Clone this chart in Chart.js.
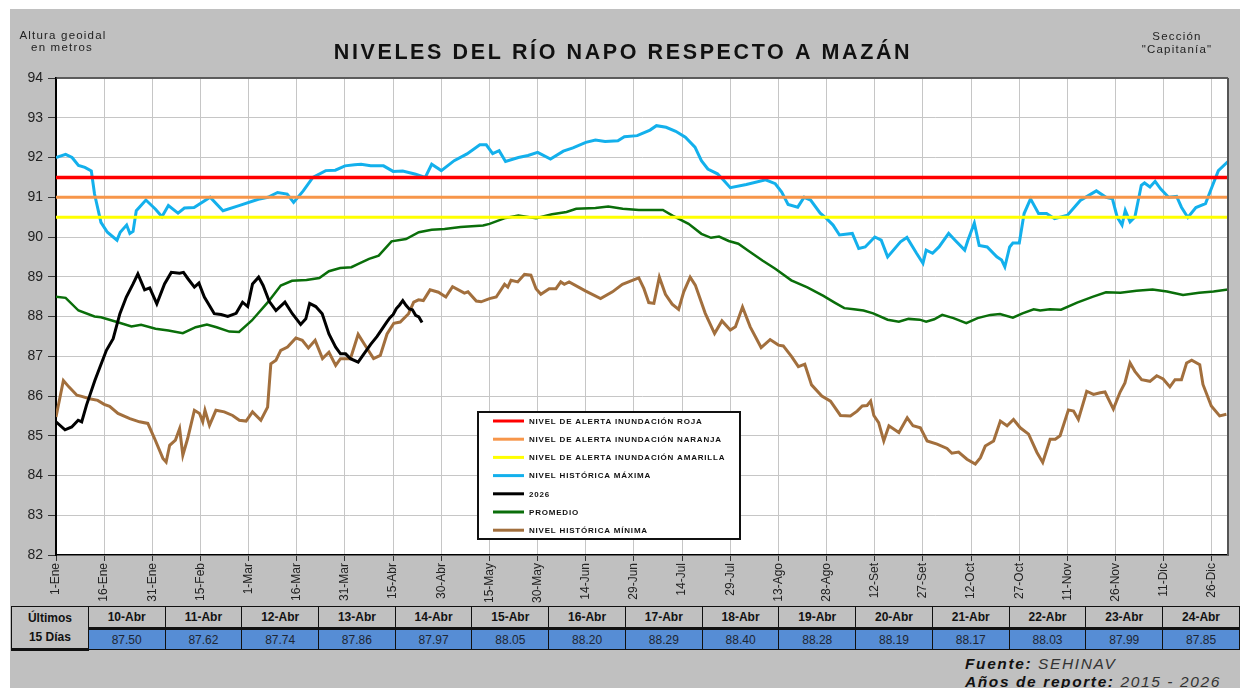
<!DOCTYPE html>
<html lang="es">
<head>
<meta charset="utf-8">
<title>Niveles del río Napo respecto a Mazán</title>
<script src="https://cdn.jsdelivr.net/npm/chart.js@4.4.1/dist/chart.umd.min.js"></script>
<style>
  html, body { margin: 0; padding: 0; background: #fff; }
  body { width: 1240px; height: 688px; position: relative; overflow: hidden;
         font-family: "Liberation Sans", Arial, sans-serif; }
  #panel { position: absolute; left: 10px; top: 9px; right: 0; bottom: 0; background: #c0c0c0; }
  #chartBox { position: absolute; left: 0; top: 0; width: 1240px; height: 606px; }
  #lastDays { position: absolute; left: 11px; top: 606px; border-collapse: collapse; table-layout: fixed; }
  #lastDays td { border: 1.5px solid #111; text-align: center; padding: 0; width: 76px; font-size: 12px; }
  #lastDays tr.head td { height: 20px; font-weight: bold; color: #111; border-bottom: 3px solid #111; }
  #lastDays tr.vals td { height: 19px; background: #568dd5; color: #1e2633; }
  #lastDays td.first { font-weight: bold; background: #c0c0c0; color: #111; line-height: 19px; }
  #source { position: absolute; left: 965px; top: 655px; font-style: italic; font-size: 15.5px;
            letter-spacing: 1.6px; line-height: 18px; color: #333; }
  #source b { color: #111; }
</style>
</head>
<body>
<div id="panel"></div>
<div id="chartBox"><canvas id="napoChart"></canvas></div>
<table id="lastDays"></table>
<div id="source"><b>Fuente:</b> SEHINAV<br><b>Años de reporte:</b> 2015 - 2026</div>

<script>
// Etiquetas del eje X (cada 15 días, año de 366 días)
const dayTickLabels = ['1-Ene', '16-Ene', '31-Ene', '15-Feb', '1-Mar', '16-Mar', '31-Mar', '15-Abr',
    '30-Abr', '15-May', '30-May', '14-Jun', '29-Jun', '14-Jul', '29-Jul', '13-Ago', '28-Ago',
    '12-Set', '27-Set', '12-Oct', '27-Oct', '11-Nov', '26-Nov', '11-Dic', '26-Dic'];
const yearSpan = [0, 365];

// Niveles de alerta
const alertNames = ['NIVEL DE ALERTA INUNDACIÓN ROJA', 'NIVEL DE ALERTA INUNDACIÓN NARANJA', 'NIVEL DE ALERTA INUNDACIÓN AMARILLA'];
const alertLevels = [91.5, 91.0, 90.5];

// Nivel histórico máximo
const maxDays = [0, 3, 5, 7, 9, 11, 12, 14, 16, 19, 20, 22, 23, 24, 25, 28, 31, 33, 35, 38, 40, 43, 48, 52, 57,
    63, 66, 69, 72, 74, 77, 80, 84, 87, 90, 93, 95, 98, 102, 105, 108, 112, 115, 117, 120, 124, 128, 132,
    134, 136, 138, 140, 144, 147, 150, 154, 158, 161, 165, 168, 171, 175, 177, 181, 185, 187, 190, 193,
    196, 199, 201, 203, 206, 208, 210, 215, 221, 224, 226, 228, 231, 233, 235, 238, 240, 242, 244, 248,
    250, 252, 255, 257, 259, 263, 265, 268, 270, 271, 273, 275, 278, 280, 283, 284, 286, 287.5, 290, 293,
    294.5, 295.5, 297, 298, 300, 301.5, 303.5, 306, 308.5, 311, 315, 319, 324, 327, 329, 330.5, 332, 333,
    334.5, 336, 338, 339, 340.7, 342.3, 344, 346.5, 349, 350.5, 352.5, 355, 358, 360, 362, 365];
const maxVals = [92.00, 92.08, 92.00, 91.80, 91.75, 91.66, 91.08, 90.37, 90.12, 89.92, 90.12, 90.30, 90.09,
    90.14, 90.66, 90.93, 90.70, 90.51, 90.79, 90.60, 90.73, 90.74, 91.00, 90.66, 90.79, 90.95, 91.00, 91.12,
    91.08, 90.87, 91.16, 91.50, 91.67, 91.68, 91.79, 91.82, 91.83, 91.79, 91.79, 91.65, 91.66, 91.58, 91.50,
    91.83, 91.67, 91.92, 92.09, 92.32, 92.32, 92.10, 92.17, 91.90, 92.00, 92.05, 92.13, 91.96, 92.16, 92.24,
    92.38, 92.44, 92.40, 92.42, 92.52, 92.55, 92.69, 92.80, 92.76, 92.66, 92.51, 92.26, 91.92, 91.71, 91.59,
    91.42, 91.24, 91.32, 91.44, 91.34, 91.13, 90.82, 90.75, 91.00, 90.93, 90.60, 90.46, 90.30, 90.05, 90.09,
    89.71, 89.75, 90.00, 89.92, 89.50, 89.88, 89.99, 89.59, 89.34, 89.67, 89.59, 89.75, 90.09, 89.92, 89.67,
    89.92, 90.35, 89.79, 89.75, 89.50, 89.42, 89.25, 89.75, 89.85, 89.85, 90.59, 90.96, 90.59, 90.59, 90.46,
    90.55, 90.92, 91.16, 91.00, 90.96, 90.50, 90.30, 90.67, 90.38, 90.50, 91.30, 91.36, 91.26, 91.40, 91.21,
    91.00, 91.02, 90.75, 90.49, 90.74, 90.84, 91.26, 91.67, 91.90];

// Año 2026 (los últimos 15 días coinciden con la tabla)
const curDays = [0, 2.8, 4.9, 6.9, 8, 9.5, 12.1, 13.7, 15.7, 17.8, 19.9, 21.9, 24, 25.5, 27.6, 29.2, 31.4,
    33.8, 35.9, 38.5, 39.7, 41.1, 43.1, 44.5, 46.2, 49.3, 51.4, 53.5, 56.1, 58.1, 59.7, 61.2, 63.1, 64.5,
    66.4, 68.5, 71.3, 73.6, 76.2, 77.8, 79, 80.9, 82.9, 85, 87.1, 88.6, 90.2, 91.7, 94.1, 95.9, 98,
    100, 101, 102, 103, 104, 105, 106, 107, 108, 109, 110, 111, 112, 113, 114];
const curVals = [85.35, 85.15, 85.22, 85.39, 85.35, 85.77, 86.39, 86.73, 87.15, 87.44, 88.07, 88.49, 88.82,
    89.07, 88.67, 88.72, 88.32, 88.82, 89.11, 89.09, 89.11, 88.95, 88.74, 88.84, 88.49, 88.07, 88.05, 88.00,
    88.08, 88.36, 88.25, 88.82, 88.99, 88.78, 88.38, 88.15, 88.36, 88.07, 87.80, 87.94, 88.33, 88.25, 88.07,
    87.56, 87.23, 87.06, 87.06, 86.94, 86.85, 87.06, 87.30,
    87.50, 87.62, 87.74, 87.86, 87.97, 88.05, 88.20, 88.29, 88.40, 88.28, 88.19, 88.17, 88.03, 87.99, 87.85];

// Promedio
const avgDays = [0, 3, 7, 12, 14, 19, 23.5, 26.5, 31, 35, 39.5, 43.5, 47, 50, 54, 57, 61, 66, 70, 73.5, 78,
    82, 85, 88.5, 92, 94, 97.5, 100.5, 104.5, 109, 113, 117, 121, 126, 133, 135, 140, 144, 149.5, 154.5, 159,
    162, 168, 172, 176.5, 181.5, 189, 192, 197, 201, 204, 206.5, 209.5, 212.5, 215.5, 220, 224, 229, 234,
    239, 242.5, 245.5, 248.5, 251.5, 254.5, 259, 262.5, 265.5, 269, 271, 273.5, 276, 279.5, 283.5, 287,
    291, 294, 298, 301, 304.5, 306.5, 309.5, 313, 318, 323, 327, 331.5, 336.5, 341.5, 346, 351, 356, 360.5, 365];
const avgVals = [88.50, 88.47, 88.15, 88.00, 87.98, 87.86, 87.75, 87.79, 87.69, 87.65, 87.58, 87.73, 87.80,
    87.73, 87.62, 87.61, 87.90, 88.36, 88.78, 88.90, 88.92, 88.97, 89.14, 89.22, 89.24, 89.32, 89.45, 89.53,
    89.89, 89.95, 90.12, 90.18, 90.20, 90.25, 90.29, 90.33, 90.48, 90.54, 90.47, 90.57, 90.63, 90.71, 90.73,
    90.77, 90.71, 90.68, 90.68, 90.54, 90.33, 90.08, 89.98, 90.01, 89.90, 89.83, 89.66, 89.41, 89.20, 88.91,
    88.73, 88.52, 88.35, 88.21, 88.18, 88.15, 88.08, 87.92, 87.87, 87.94, 87.92, 87.87, 87.93, 88.04, 87.96,
    87.83, 87.96, 88.04, 88.06, 87.97, 88.08, 88.18, 88.15, 88.18, 88.17, 88.35, 88.50, 88.61, 88.60, 88.65,
    88.68, 88.63, 88.54, 88.60, 88.63, 88.68];

// Nivel histórico mínimo
const minDays = [0, 2.3, 4, 6.5, 8, 10.5, 13, 15, 16.7, 19.3, 23, 26, 28.6, 30.7, 33.3, 34.3, 35.4, 37.2,
    38.5, 39.5, 41, 43.1, 44.7, 45.7, 46.4, 47.8, 49.8, 52.4, 55, 57.1, 59.2, 61.2, 63.8, 65.9, 66.9, 68.5,
    70, 72.1, 74.7, 76.7, 78.6, 80.7, 83, 85, 87.1, 88.6, 91.7, 94.1, 96.3, 98.9, 101, 103.1, 105.2, 107.2,
    109.8, 111.4, 112.9, 114.4, 116.5, 119.1, 121.4, 123.5, 127.2, 128.3, 130.9, 132.4, 135, 137.1, 139.7,
    140.7, 141.7, 143.8, 145.9, 147.9, 149.5, 151, 153.6, 155.7, 157.2, 158.3, 159.8, 165, 169.6, 173.3,
    176.4, 179.5, 181.5, 183.1, 184.6, 186.2, 187.9, 189.8, 191.9, 193.9, 195.5, 197.5, 199.1, 202.2, 205.1,
    207.4, 210, 211.6, 213.8, 216.2, 219.6, 222.4, 225, 226.5, 229.1, 231.2, 233.2, 235.3, 238.5, 241.2,
    244.3, 247.4, 249.5, 251.1, 252.6, 253.7, 254.7, 256.2, 257.8, 259.4, 262.5, 265.1, 266.9, 269.2, 271.3,
    274.4, 277.5, 279, 281.1, 283.7, 286.3, 287.9, 289.4, 292, 294.1, 296.2, 298.2, 300.3, 302.9, 305.5,
    307.3, 309.6, 311.2, 312.7, 315.3, 316.9, 318.4, 321, 323.1, 325.2, 326.7, 329.3, 331.4, 332.9, 334.5,
    336, 338.1, 340.7, 342.8, 344.8, 346.9, 348.5, 350.5, 352.1, 353.7, 356.2, 357.2, 359.8, 362.4, 364.5];
const minVals = [85.47, 86.39, 86.23, 86.02, 85.99, 85.93, 85.89, 85.79, 85.74, 85.56, 85.43, 85.35, 85.31,
    84.93, 84.43, 84.34, 84.76, 84.89, 85.18, 84.51, 84.93, 85.64, 85.56, 85.35, 85.64, 85.26, 85.64, 85.60,
    85.51, 85.39, 85.37, 85.60, 85.39, 85.72, 86.81, 86.90, 87.15, 87.23, 87.46, 87.40, 87.21, 87.40, 86.94,
    87.10, 86.77, 86.94, 86.94, 87.55, 87.27, 86.94, 87.02, 87.56, 87.83, 87.86, 88.07, 88.36, 88.42, 88.40,
    88.67, 88.61, 88.49, 88.75, 88.59, 88.62, 88.39, 88.37, 88.45, 88.49, 88.81, 88.74, 88.91, 88.87, 89.06,
    89.04, 88.70, 88.56, 88.70, 88.70, 88.87, 88.81, 88.87, 88.64, 88.45, 88.62, 88.81, 88.91, 88.97, 88.70,
    88.35, 88.33, 88.99, 88.56, 88.31, 88.18, 88.62, 88.99, 88.79, 88.08, 87.57, 87.89, 87.66, 87.74, 88.24,
    87.74, 87.22, 87.42, 87.28, 87.26, 86.99, 86.74, 86.80, 86.28, 86.00, 85.87, 85.51, 85.50, 85.62, 85.75,
    85.76, 85.87, 85.51, 85.33, 84.87, 85.25, 85.08, 85.45, 85.25, 85.20, 84.87, 84.79, 84.68, 84.56, 84.59,
    84.41, 84.29, 84.45, 84.74, 84.87, 85.37, 85.25, 85.41, 85.20, 85.04, 84.58, 84.33, 84.91, 84.91, 85.00,
    85.65, 85.62, 85.41, 86.12, 86.04, 86.08, 86.10, 85.67, 86.10, 86.33, 86.83, 86.62, 86.41, 86.37, 86.51,
    86.43, 86.23, 86.41, 86.41, 86.83, 86.90, 86.79, 86.29, 85.75, 85.50, 85.54];

// Tabla: últimos 15 días
const tableDates = ['10-Abr', '11-Abr', '12-Abr', '13-Abr', '14-Abr', '15-Abr', '16-Abr', '17-Abr',
    '18-Abr', '19-Abr', '20-Abr', '21-Abr', '22-Abr', '23-Abr', '24-Abr'];
const tableVals = [87.50, 87.62, 87.74, 87.86, 87.97, 88.05, 88.20, 88.29, 88.40, 88.28, 88.19, 88.17,
    88.03, 87.99, 87.85];

const FONT = '"Liberation Sans", Arial, sans-serif';

function toPoints(days, vals) {
    return days.map((d, i) => ({ x: d, y: vals[i] }));
}

function flatLine(level) {
    return yearSpan.map(d => ({ x: d, y: level }));
}

// Build the table below the chart
function buildTable() {
    const table = document.getElementById('lastDays');
    let html = '<tr class="head"><td class="first" rowspan="2">Últimos<br>15 Días</td>';
    tableDates.forEach(d => { html += '<td>' + d + '</td>'; });
    html += '</tr><tr class="vals">';
    tableVals.forEach(v => { html += '<td>' + v.toFixed(2) + '</td>'; });
    html += '</tr>';
    table.innerHTML = html;
}

// White plot background and the top/right frame
const plotFrame = {
    id: 'plotFrame',
    beforeDraw(chart) {
        const a = chart.chartArea, ctx = chart.ctx;
        ctx.save();
        ctx.fillStyle = '#ffffff';
        ctx.fillRect(a.left, a.top, a.right - a.left, a.bottom - a.top);
        ctx.restore();
    },
    afterDatasetsDraw(chart) {
        const a = chart.chartArea, ctx = chart.ctx;
        ctx.save();
        ctx.strokeStyle = '#3a3a3a';
        ctx.lineWidth = 1.5;
        ctx.beginPath();
        ctx.moveTo(a.left, a.top);
        ctx.lineTo(a.right, a.top);
        ctx.stroke();
        ctx.lineWidth = 2;
        ctx.strokeStyle = '#555';
        ctx.beginPath();
        ctx.moveTo(a.right, a.top);
        ctx.lineTo(a.right, a.bottom);
        ctx.stroke();
        ctx.restore();
    }
};

// Title and corner notes
const headerText = {
    id: 'headerText',
    afterDraw(chart) {
        const ctx = chart.ctx;
        ctx.save();
        ctx.fillStyle = '#111';
        ctx.textAlign = 'center';
        ctx.textBaseline = 'alphabetic';
        ctx.font = 'bold 21.5px ' + FONT;
        ctx.letterSpacing = '2.6px';
        ctx.fillText('NIVELES DEL RÍO NAPO RESPECTO A MAZÁN', 623, 58.5);

        ctx.font = '11.5px ' + FONT;
        ctx.letterSpacing = '1.2px';
        ctx.fillStyle = '#222';
        ctx.fillText('Altura geoidal', 63, 38.5);
        ctx.fillText('en metros', 62, 51);
        ctx.fillText('Sección', 1177, 40);
        ctx.fillText('"Capitanía"', 1177, 52.5);
        ctx.restore();
    }
};

// Boxed legend inside the plot area
const boxLegend = {
    id: 'boxLegend',
    afterDatasetsDraw(chart, args, opts) {
        const ctx = chart.ctx;
        const b = opts.box;
        ctx.save();
        ctx.fillStyle = '#ffffff';
        ctx.fillRect(b.x, b.y, b.w, b.h);
        ctx.strokeStyle = '#111';
        ctx.lineWidth = 2;
        ctx.strokeRect(b.x, b.y, b.w, b.h);
        ctx.font = 'bold 8px ' + FONT;
        ctx.letterSpacing = '0.8px';
        ctx.textBaseline = 'middle';
        ctx.textAlign = 'left';
        chart.data.datasets.forEach((ds, i) => {
            const y = b.y + opts.firstRow + i * opts.rowStep;
            ctx.strokeStyle = ds.borderColor;
            ctx.lineWidth = 3;
            ctx.beginPath();
            ctx.moveTo(b.x + 15, y);
            ctx.lineTo(b.x + 46, y);
            ctx.stroke();
            ctx.fillStyle = '#111';
            ctx.fillText(ds.label, b.x + 51, y + 0.5);
        });
        ctx.restore();
    }
};

function lineSet(label, data, color, width) {
    return {
        label: label,
        data: data,
        borderColor: color,
        backgroundColor: color,
        borderWidth: width,
        pointRadius: 0,
        tension: 0,
        fill: false
    };
}

buildTable();

const chartData = {
    datasets: [
        lineSet(alertNames[0], flatLine(alertLevels[0]), '#ff0000', 3.5),
        lineSet(alertNames[1], flatLine(alertLevels[1]), '#f7964a', 3),
        lineSet(alertNames[2], flatLine(alertLevels[2]), '#ffff00', 3),
        lineSet('NIVEL HISTÓRICA MÁXIMA', toPoints(maxDays, maxVals), '#13b0ec', 3),
        lineSet('2026', toPoints(curDays, curVals), '#000000', 3),
        lineSet('PROMEDIO', toPoints(avgDays, avgVals), '#0a6e0a', 2.5),
        lineSet('NIVEL HISTÓRICA MÍNIMA', toPoints(minDays, minVals), '#a26f3d', 3)
    ]
};

new Chart(document.getElementById('napoChart'), {
    type: 'line',
    data: chartData,
    plugins: [plotFrame, boxLegend, headerText],
    options: {
        responsive: true,
        maintainAspectRatio: false,
        animation: false,
        layout: { padding: { left: 10, top: 78, right: 12, bottom: 0 } },
        plugins: {
            legend: { display: false },
            title: { display: false },
            tooltip: { enabled: false },
            boxLegend: {
                box: { x: 478, y: 412, w: 262, h: 127 },
                firstRow: 9,
                rowStep: 18.2
            }
        },
        scales: {
            x: {
                type: 'linear',
                min: yearSpan[0],
                max: yearSpan[1],
                ticks: {
                    stepSize: 15,
                    includeBounds: false,
                    autoSkip: false,
                    minRotation: 90,
                    maxRotation: 90,
                    padding: 2,
                    color: '#222',
                    font: { family: FONT, size: 12 },
                    callback: v => dayTickLabels[Math.round(v / 15)] || ''
                },
                grid: { color: '#c6c6c6', tickColor: '#333', tickLength: 6, lineWidth: 1 },
                border: { color: '#000', width: 1.5 },
                afterFit: s => { s.height = 51; }
            },
            y: {
                min: 82,
                max: 94,
                ticks: {
                    stepSize: 1,
                    padding: 5,
                    color: '#222',
                    font: { family: FONT, size: 14 }
                },
                grid: { color: '#c6c6c6', tickColor: '#333', tickLength: 8, lineWidth: 1 },
                border: { color: '#000', width: 2 },
                afterFit: s => { s.width = 46; }
            }
        }
    }
});
</script>
</body>
</html>
